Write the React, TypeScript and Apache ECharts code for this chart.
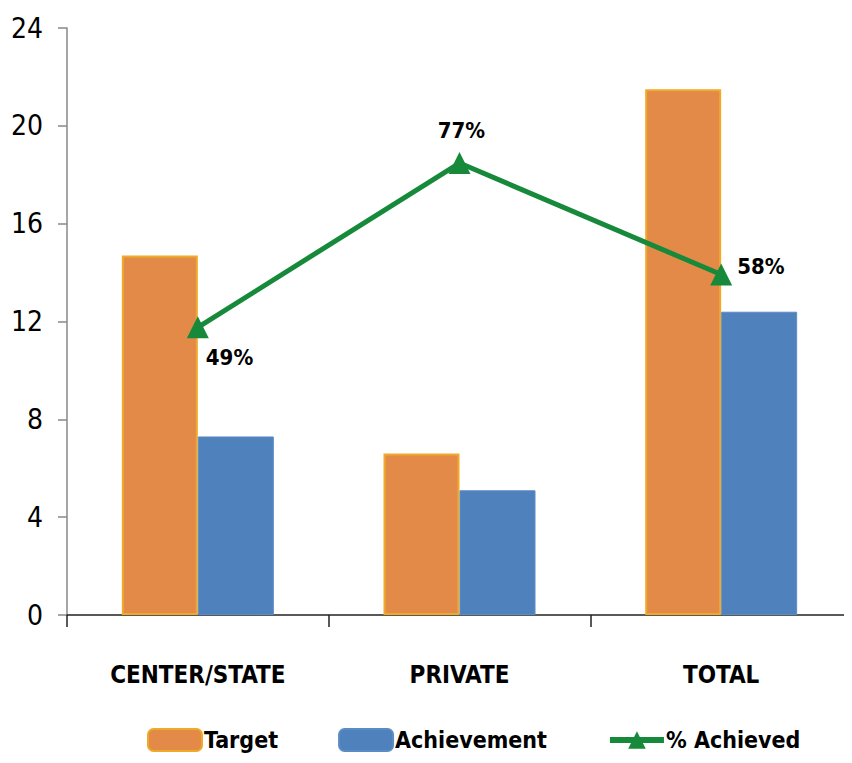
import React, { useEffect, useRef } from "react";
import * as echarts from "echarts";

const categories = ["CENTER/STATE", "PRIVATE", "TOTAL"];
const targetValues = [14.7, 6.6, 21.5];
const achievementValues = [7.3, 5.1, 12.4];
const percentAchieved = [49, 77, 58];
const yTicks = [0, 4, 8, 12, 16, 20, 24];

const FONT = "'DejaVu Sans Condensed', 'DejaVu Sans', sans-serif";
const BOLD = "bold";
const NORMAL = "normal";

export default function App() {
  const ref = useRef<HTMLDivElement>(null);
  useEffect(() => {
    if (!ref.current) return;
    const chart = echarts.init(ref.current, null, { renderer: "svg" });
    const labelOffsets: any[] = [
      { position: "right", offset: [-8, 30] },
      { position: "top", offset: [2, -6] },
      { position: "right", offset: [0, -8] },
    ];
    chart.setOption({
      animation: false,
      backgroundColor: "#ffffff",
      textStyle: { fontFamily: FONT },
      grid: { left: 67, right: 0, top: 28, bottom: 148, containLabel: false },
      legend: {
        bottom: 6,
        left: 142,
        width: 700,
        itemGap: 60,
        itemWidth: 54,
        itemHeight: 22,
        textStyle: { fontFamily: FONT, fontSize: 23, fontWeight: BOLD, color: "#000", padding: [0, 0, 0, -3] },
        data: [
          { name: "Target" },
          { name: "Achievement" },
          { name: "% Achieved", lineStyle: { width: 6 } },
        ],
      },
      xAxis: {
        type: "category",
        data: categories,
        boundaryGap: true,
        axisLine: { lineStyle: { color: "#222", width: 1.5 } },
        axisTick: { show: true, length: 12, lineStyle: { color: "#222", width: 1.5 } },
        axisLabel: { interval: 0, fontFamily: FONT, fontSize: 24, fontWeight: BOLD, color: "#000", margin: 48 },
      },
      yAxis: [
        {
          type: "value",
          min: yTicks[0],
          max: yTicks[yTicks.length - 1],
          interval: 4,
          axisLine: { show: true, lineStyle: { color: "#888", width: 1.5 } },
          axisTick: { show: true, length: 9, lineStyle: { color: "#888", width: 1.5 } },
          splitLine: { show: false },
          axisLabel: { fontFamily: FONT, fontSize: 28, fontWeight: NORMAL, color: "#000", margin: 24 },
        },
        { type: "value", min: 0, max: 100, show: false, splitLine: { show: false } },
      ],
      series: [
        {
          name: "Target",
          type: "bar",
          data: targetValues,
          barWidth: 76,
          barGap: "0%",
          itemStyle: { color: "#E48A48", borderColor: "#F0AA2A", borderWidth: 2 },
        },
        {
          name: "Achievement",
          type: "bar",
          data: achievementValues,
          barWidth: 76,
          barGap: "0%",
          itemStyle: { color: "#4F81BD", borderColor: "#5C8CC6", borderWidth: 1 },
        },
        {
          name: "% Achieved",
          type: "line",
          yAxisIndex: 1,
          data: percentAchieved.map((v, i) => ({
            value: v,
            label: {
              show: true,
              formatter: "{c}%",
              fontFamily: FONT,
              fontSize: 22,
              fontWeight: BOLD,
              color: "#000",
              ...labelOffsets[i],
            },
          })),
          symbol: "triangle",
          symbolSize: 22,
          lineStyle: { color: "#168A3A", width: 5 },
          itemStyle: { color: "#168A3A" },
          z: 5,
        },
      ],
    });
    return () => chart.dispose();
  }, []);
  return <div ref={ref} style={{ width: 852, height: 763, marginLeft: -8, marginTop: -8 }} />;
}
